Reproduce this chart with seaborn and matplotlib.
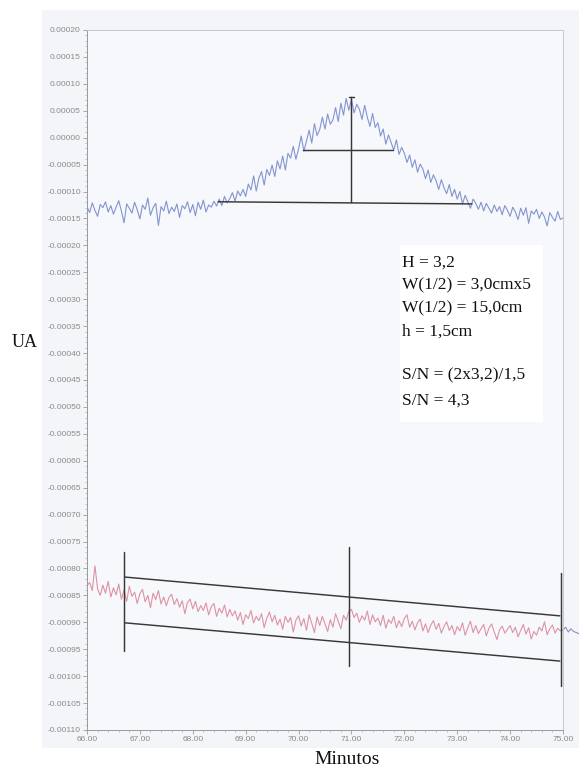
import numpy as np
import pandas as pd
import matplotlib
matplotlib.use("Agg")
import matplotlib.pyplot as plt
import seaborn as sns
from matplotlib.ticker import MultipleLocator, AutoMinorLocator, FormatStrFormatter
from matplotlib.patches import Rectangle

# ---------------- data (UA values in units of 1e-5) ----------------
SCALE = 1e-5
t_start, t_step = 66.0, 0.05

blue_e5 = [
    -12.8, -13.9, -12.1, -13.5, -14.6, -12.4, -13.0, -11.9, -13.8, -12.6,
    -14.2, -12.9, -11.7, -13.6, -15.8, -12.3, -13.1, -14.0, -12.0, -13.4,
    -15.1, -12.5, -13.3, -11.2, -14.4, -13.0, -12.2, -16.3, -12.8, -13.6,
    -11.8, -14.1, -12.9, -13.7, -12.3, -14.8, -12.6, -13.2, -11.9, -13.9,
    -12.4, -14.5, -12.0, -13.3, -11.6, -13.8, -12.5, -12.9, -11.8, -12.7,
    -11.4, -12.6, -10.9, -12.1, -11.3, -10.2, -11.8, -9.9, -10.8, -9.6,
    -10.9, -8.6, -9.7, -7.1, -9.9, -7.5, -6.3, -8.8, -5.9, -7.0,
    -5.1, -7.2, -4.3, -5.8, -3.4, -6.0, -2.9, -3.8, -1.6, -4.0,
    -2.1, 0.3, -2.5, -0.6, 1.4, -1.0, 2.6, 0.4, 1.5, 3.8,
    1.6, 4.4, 2.5, 3.3, 5.6, 3.0, 6.4, 4.2, 7.3, 5.1,
    7.1, 4.6, 6.2, 5.3, 3.4, 6.0, 3.8, 2.1, 4.5, 1.9,
    2.8, 0.3, 1.6, -1.2, 0.5, -0.9, -2.3, -0.4, -3.1, -1.8,
    -2.9, -4.6, -3.2, -5.5, -4.1, -6.4, -4.9, -5.8, -7.6, -6.0,
    -8.3, -6.9, -8.0, -9.6, -7.8, -9.3, -10.4, -8.7, -10.9, -9.6,
    -11.4, -10.0, -12.3, -10.7, -11.9, -13.1, -11.4, -12.2, -13.3, -12.0,
    -13.6, -12.2, -13.1, -14.0, -12.5, -13.7, -12.8, -14.3, -12.6, -13.5,
    -14.6, -12.9, -13.8, -15.2, -13.1, -14.4, -13.0, -15.9, -13.6, -14.2,
    -13.3, -15.0, -13.8, -14.7, -16.4, -13.9, -14.8, -15.5, -13.7, -15.2,
    -14.9,
]

red_e5 = [
    -83.2, -82.6, -84.1, -79.5, -83.8, -85.0, -83.1, -84.6, -82.4, -85.3,
    -83.6, -84.9, -82.9, -85.7, -84.0, -86.1, -83.3, -85.2, -84.4, -86.5,
    -84.7, -83.9, -86.2, -85.0, -87.3, -84.6, -85.8, -84.1, -86.6, -85.3,
    -86.9, -85.4, -84.8, -86.7, -85.6, -87.2, -86.0, -88.4, -86.3, -85.7,
    -87.5, -86.1, -88.0, -86.9, -87.8, -86.4, -88.6, -87.1, -86.5, -88.9,
    -87.4, -88.3, -86.8, -89.0, -87.6, -88.8, -87.9, -89.6, -88.2, -90.4,
    -88.6, -89.3, -87.8, -90.1, -88.9, -89.7, -88.4, -91.0, -89.2, -88.1,
    -89.9, -88.7, -90.5, -89.4, -91.3, -88.9, -90.0, -89.1, -91.8, -89.6,
    -88.8, -90.7, -89.3, -91.5, -88.6, -90.2, -91.9, -89.0, -90.6, -88.9,
    -90.3, -91.7, -89.5, -90.9, -88.4, -89.8, -91.2, -88.7, -89.6, -88.0,
    -87.6, -89.1, -88.3, -90.0, -88.8, -89.6, -87.9, -90.4, -88.6, -89.9,
    -89.2, -90.6, -88.7, -91.1, -89.5, -90.2, -88.9, -91.0, -89.7, -90.8,
    -89.3, -88.6, -90.9, -89.8, -91.4, -90.1, -89.4, -91.6, -90.3, -91.9,
    -90.5, -89.7, -91.3, -90.2, -92.0, -90.8, -89.9, -91.5, -90.6, -92.3,
    -90.8, -91.6, -90.1, -92.4, -91.0, -89.8, -91.9, -90.6, -92.1, -91.2,
    -90.4, -92.5, -91.1, -90.3, -91.8, -93.2, -91.4, -90.7, -92.0, -91.3,
    -90.6, -91.9, -90.9, -92.7, -91.5, -90.4, -92.2, -91.0, -93.1, -91.7,
    -92.4, -90.9, -91.6, -89.9, -92.3, -91.2, -90.5, -92.0, -91.1, -91.6,
    -91.4,
]

tail_t = [75.00, 75.05, 75.10, 75.15, 75.20, 75.25, 75.30]
tail_e5 = [-91.4, -90.9, -91.8, -91.2, -91.7, -91.9, -92.1]

# annotation segments: (minutes, UA*1e5)
peak_vline = ([71.0, 71.0], [7.5, -11.9])
peak_cap = ([70.96, 71.04], [7.5, 7.5])
peak_half = ([70.08, 71.78], [-2.3, -2.3])
peak_base = ([68.48, 73.28], [-11.9, -12.3])
noise_upper = ([66.72, 74.94], [-81.6, -88.8])
noise_lower = ([66.72, 74.94], [-90.1, -97.2])
noise_v1 = ([66.70, 66.70], [-76.9, -95.3])
noise_v2 = ([70.95, 70.95], [-76.0, -98.1])
noise_v3 = ([74.96, 74.96], [-80.8, -101.8])

box_lines = ["H = 3,2", "W(1/2) = 3,0cmx5", "W(1/2) = 15,0cm", "h = 1,5cm",
             "S/N = (2x3,2)/1,5", "S/N = 4,3"]

x_min, x_max, x_step = 66.0, 75.0, 1.0
y_min, y_max, y_step = -0.00110, 0.00020, 0.00005

# ---------------- figure ----------------
sns.set_style("ticks")
plt.rcParams["axes.unicode_minus"] = False
plt.rcParams["font.family"] = ["Liberation Sans", "DejaVu Sans"]

W, H = 579, 769
fig = plt.figure(figsize=(W / 100, H / 100), dpi=100, facecolor="white")
fig.patches.append(Rectangle((42 / W, 1 - 748 / H), 1 - 42 / W, (748 - 10) / H,
                             transform=fig.transFigure, facecolor="#f3f5f9",
                             edgecolor="none", zorder=-10))
ax = fig.add_axes([87 / W, 1 - 730 / H, (563 - 87) / W, 700 / H])
ax.set_zorder(2)
ax.set_facecolor("#f6f8fb")

n = len(blue_e5)
t = np.round(t_start + t_step * np.arange(n), 2)
df = pd.DataFrame({"t": t,
                   "blue": np.array(blue_e5) * SCALE,
                   "red": np.array(red_e5) * SCALE})

sns.lineplot(data=df, x="t", y="blue", ax=ax, color="#8494d0", linewidth=0.8,
             estimator=None, zorder=2)
sns.lineplot(data=df, x="t", y="red", ax=ax, color="#de93a4", linewidth=0.8,
             estimator=None, zorder=2)
ax.plot(tail_t, np.array(tail_e5) * SCALE, color="#8a93b8", linewidth=0.8,
        clip_on=False, zorder=2)

for seg in [peak_vline, peak_cap, peak_half, peak_base, noise_upper, noise_lower,
            noise_v1, noise_v2, noise_v3]:
    ax.plot(seg[0], np.array(seg[1]) * SCALE, color="#383838", linewidth=1.05,
            zorder=3, clip_on=False)

ax.set_xlim(x_min, x_max)
ax.set_ylim(y_min, y_max)
ax.xaxis.set_major_locator(MultipleLocator(x_step))
ax.yaxis.set_major_locator(MultipleLocator(y_step))
ax.xaxis.set_minor_locator(AutoMinorLocator(5))
ax.yaxis.set_minor_locator(AutoMinorLocator(5))
ax.xaxis.set_major_formatter(FormatStrFormatter("%.2f"))
ax.yaxis.set_major_formatter(FormatStrFormatter("%.5f"))
ax.tick_params(which="major", direction="out", length=3, width=0.6,
               color="#9a9a9a", labelcolor="#8a8a8a", labelsize=6, pad=1.5)
ax.tick_params(which="minor", direction="out", length=1.6, width=0.5,
               color="#b0b0b0")
for s in ax.spines.values():
    s.set_color("#c4c8cf")
    s.set_linewidth(0.7)
ax.spines["left"].set_color("#9a9a9a")
ax.spines["bottom"].set_color("#9a9a9a")
ax.set_xlabel("")
ax.set_ylabel("")

# text box
ax.add_patch(Rectangle((0.6576, 0.44), 0.3004, 0.253, transform=ax.transAxes,
                       facecolor="white", edgecolor="none", zorder=4))
box_y = [0.6614, 0.630, 0.597, 0.563, 0.5014, 0.4643]
for txt, yy in zip(box_lines, box_y):
    ax.text(0.662, yy, txt, transform=ax.transAxes, ha="left", va="baseline",
            fontsize=12.5, family="Liberation Serif", color="#111111", zorder=5)

fig.text(25 / W, 1 - 347 / H, "UA", ha="center", va="baseline",
         fontsize=13, family="Liberation Serif", color="#111111")
fig.text(347 / W, 1 - 764 / H, "Minutos", ha="center", va="baseline",
         fontsize=14, family="Liberation Serif", color="#111111")

fig.savefig("out.png", dpi=100, facecolor="white")
